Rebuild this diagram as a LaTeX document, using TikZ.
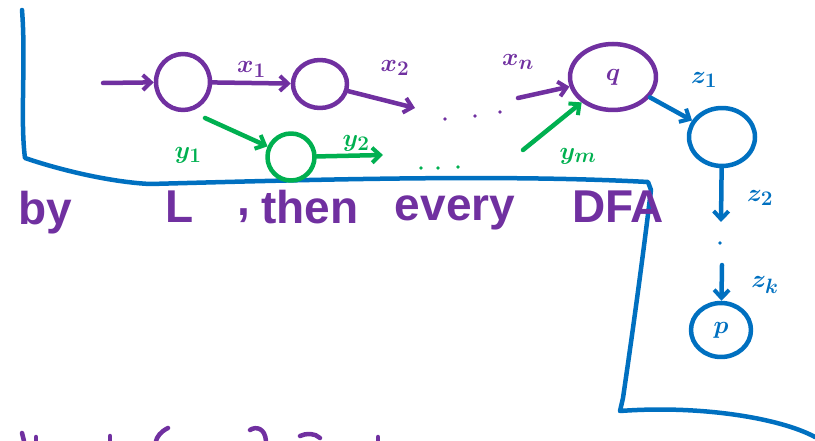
\documentclass[tikz,border=0pt]{standalone}
\usepackage{fontspec}
\setmainfont{Liberation Sans}
\usetikzlibrary{arrows.meta,shapes.geometric}
\definecolor{pur}{HTML}{7030A0}
\definecolor{grn}{HTML}{00B050}
\definecolor{blu}{HTML}{0070C0}
\begin{document}
\begin{tikzpicture}[x=1pt,y=-1pt,line cap=round,line join=round,
  st/.style={draw,ellipse,line width=4.5pt,inner sep=0pt,font=\fontsize{34}{34}\selectfont\boldmath},
  arr/.style={-{Straight Barb[length=8pt,width=15pt,line width=4pt]},line width=4.5pt},
  lab/.style={font=\fontsize{32}{32}\selectfont\boldmath},
  word/.style={text=pur,font=\fontsize{46}{46}\selectfont\bfseries},
  dotp/.style={circle,fill,inner sep=1.3pt}]
\useasboundingbox (0,0) rectangle (815,441);
% blue frame
\draw[blu,line width=4.5pt] (22,10) .. controls (26,60) and (20,120) .. (25,158)
  .. controls (60,170) and (110,182) .. (150,184) .. controls (300,180) and (500,174) .. (648,182)
  -- (651,190) .. controls (640,280) and (630,350) .. (623,398) -- (620,411)
  .. controls (700,405) and (780,418) .. (815,437);
% purple states
\node[st,pur,minimum width=54pt,minimum height=56pt] (n1) at (183,82) {};
\node[st,pur,minimum width=54pt,minimum height=48pt] (n2) at (320,84) {};
\node[st,pur,minimum width=86pt,minimum height=66pt] (q) at (613,77) {$q$};
\coordinate (s0) at (103,83);
\draw[arr,pur] (s0) -- (n1);
\draw[arr,pur] (n1) -- node[lab,above=0pt] {$x_1$} (n2);
\coordinate (x2e) at (415,108);
\draw[arr,pur] (n2) -- (x2e);
\node[lab,pur] (lx2) at (395,68) {$x_2$};
\node[dotp,pur] (d1) at (445,119) {};
\node[dotp,pur] (d2) at (475,116) {};
\node[dotp,pur] (d3) at (500,112) {};
\coordinate (xns) at (518,98);
\draw[arr,pur] (xns) -- (q);
\node[lab,pur] (lxn) at (518,62) {$x_n$};
% green
\node[st,grn,minimum width=47pt,minimum height=47pt] (g) at (291,157) {};
\coordinate (y1s) at (205,118);
\draw[arr,grn] (y1s) -- (g);
\node[lab,grn] (ly1) at (188,155) {$y_1$};
\coordinate (y2e) at (383,155);
\draw[arr,grn] (g) -- (y2e);
\node[lab,grn] (ly2) at (356,143) {$y_2$};
\node[dotp,grn] (e1) at (421,168) {};
\node[dotp,grn] (e2) at (438,168) {};
\node[dotp,grn] (e3) at (458,167) {};
\coordinate (yms) at (523,150);
\draw[arr,grn] (yms) -- (q);
\node[lab,grn] (lym) at (578,156) {$y_m$};
% blue
\node[st,blu,minimum width=66pt,minimum height=58pt] (z) at (722,137) {};
\node[st,blu,minimum width=60pt,minimum height=54pt] (p) at (721,330) {$p$};
\draw[arr,blu] (q) -- (z);
\node[lab,blu] (lz1) at (704,80) {$z_1$};
\coordinate (z2e) at (721,222);
\draw[arr,blu] (z) -- (z2e);
\node[lab,blu] (lz2) at (760,198) {$z_2$};
\node[dotp,blu] (bd) at (720,243) {};
\coordinate (zks) at (722,265);
\draw[arr,blu] (zks) -- (p);
\node[lab,blu] (lzk) at (765,285) {$z_k$};
% words
\node[word] (w1) at (45,213) {by};
\node[word] (w2) at (180,207) {L};
\node[word] (w3) at (244,216) {,};
\node[word] (w4) at (310,207) {then};
\node[word] (w5) at (455,213) {every};
\node[word] (w6) at (618,207) {DFA};
% cut-off text at the bottom edge
\draw[pur,line width=4.5pt] (22,433) -- (24,441);
\draw[pur,line width=4.5pt] (36,437) -- (36,441);
\draw[pur,line width=4.5pt] (110,436) -- (110,441);
\draw[pur,line width=4.5pt] (168,428) .. controls (160,432) and (157,437) .. (156,441);
\draw[pur,line width=4.5pt] (250,430) .. controls (256,426) and (265,428) .. (266,441);
\draw[pur,line width=4.5pt] (300,436) .. controls (306,433) and (315,433) .. (320,438);
\draw[pur,line width=4.5pt] (378,437) -- (378,441);
\end{tikzpicture}
\end{document}
